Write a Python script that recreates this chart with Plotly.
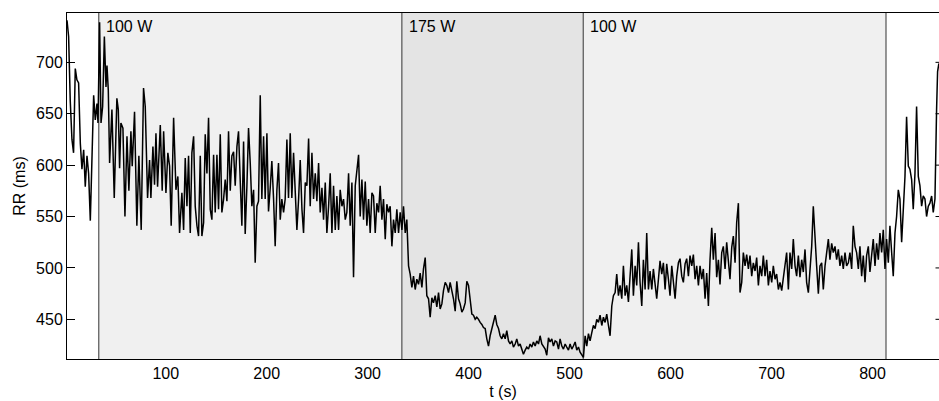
import plotly.graph_objects as go

# ---- data (time in s, RR interval in ms) ----
t_s = [
    2.2, 3.8, 5.4, 7.1, 8.7, 10.4, 12.0, 13.7, 15.4, 17.0, 18.7, 20.3, 22.0, 23.6, 25.3, 26.9,
    28.6, 30.2, 31.9, 32.9, 34.5, 35.9, 37.5, 39.2, 40.8, 41.8, 43.1, 44.4, 46.7, 49.0, 51.6,
    53.0, 54.3, 55.6, 57.6, 59.6, 61.6, 63.5, 65.5, 66.8, 68.1, 69.1, 71.4, 73.4, 75.7, 78.0,
    79.7, 82.0, 84.0, 85.3, 87.3, 88.9, 90.3, 91.9, 94.6, 96.5, 97.9, 100.2, 102.1, 103.8,
    105.4, 107.8, 110.1, 112.0, 113.7,
    116.0, 117.7, 119.3, 121.0, 122.6, 124.3, 125.9, 127.6, 129.2, 130.9, 132.5, 134.2, 135.8,
    137.5, 139.1, 140.8, 142.4, 144.1, 145.7, 147.4, 149.0, 150.7, 152.3, 154.0, 155.6, 157.3,
    158.9, 160.6, 162.2, 163.9, 165.5, 167.2, 168.8, 170.5, 172.1, 173.8, 175.4, 177.1, 178.7,
    180.4, 182.0, 183.7, 185.3, 187.0, 188.6, 190.3, 191.9, 193.6, 195.2, 196.9, 198.5, 200.2,
    201.8, 203.5, 205.1, 206.8, 208.4, 210.1, 211.7, 213.4, 215.0, 216.7, 218.3, 220.0, 221.6,
    223.3,
    224.9, 226.6, 228.3, 229.9, 231.6, 233.2, 234.9, 236.5, 238.2, 239.8, 241.5, 243.1, 244.8,
    246.4, 248.1, 249.7, 251.4, 253.0, 254.7, 256.3, 258.0, 259.6, 261.3, 262.9, 264.6, 266.2,
    267.9, 269.5, 271.2, 272.8, 274.5, 276.1, 277.8, 279.4, 281.1, 282.7, 284.4, 286.0, 287.7,
    289.3, 291.0, 292.6, 294.3, 295.9, 297.6, 299.2, 300.9, 302.5, 304.2, 305.8, 307.5, 309.1,
    310.8, 312.4, 314.1, 315.7, 317.4, 319.0, 320.7, 322.3, 324.0, 325.6, 327.3, 328.9, 330.6,
    332.2, 333.9, 335.5, 337.2, 338.8, 339.6,
    340.5, 342.1, 343.8, 345.4, 347.1, 348.7, 350.4, 352.0, 353.7, 355.3, 357.0, 358.6, 360.3,
    361.9, 363.6, 365.2, 366.9, 368.5, 370.2, 371.8, 373.5, 375.1, 376.8, 378.4, 380.1, 381.7,
    383.4, 385.0, 386.7, 388.3, 390.0, 391.6, 393.3, 394.9, 396.6, 398.2, 399.9, 401.5, 403.2,
    404.8, 406.5, 408.1, 409.8, 411.4, 413.1, 414.7, 416.4, 418.0, 419.7, 421.3, 423.0, 424.6,
    426.3, 427.9, 429.6, 431.2, 432.9, 434.5, 436.2, 437.8, 439.5, 441.1, 442.8, 444.4, 446.1,
    447.7, 449.4, 451.0, 452.7, 454.3, 456.0, 457.6, 459.3, 460.9, 462.6, 464.2, 465.9, 467.5,
    469.2, 470.8, 472.5, 474.1, 475.8, 477.4, 479.1, 480.7, 482.4, 484.0, 485.7, 487.3, 489.0,
    490.6, 492.3, 493.9, 495.6, 497.2, 498.9, 500.5, 502.2, 503.8, 505.5, 507.1, 508.8, 510.4,
    512.1, 513.7, 515.4,
    517.0, 518.7, 520.3, 522.0, 523.6, 525.3, 526.9, 528.6, 530.2, 531.9, 533.5, 535.2, 536.8,
    538.5, 540.1, 541.8, 543.4, 545.1, 546.7, 548.4, 550.0, 551.7, 553.3, 555.0, 556.6, 558.3,
    559.9, 561.6, 563.2, 564.9, 566.5, 568.2, 569.8, 571.5, 573.1, 574.8, 576.4, 578.1, 579.7,
    581.4, 583.0, 584.7, 586.3, 588.0, 589.6, 591.3, 592.9, 594.6, 596.2, 597.9, 599.5, 601.2,
    602.8, 604.5, 606.1, 607.8, 609.4, 611.1, 612.7, 614.4, 616.0, 617.7, 619.3, 621.0, 622.6,
    624.3, 625.9, 627.6, 629.2, 630.9, 632.5, 634.2, 635.8, 637.5,
    639.1, 640.8, 642.4, 644.1, 645.7, 647.4, 649.0, 650.7, 652.3, 654.0, 655.6, 657.3, 658.9,
    660.6, 662.2, 663.9, 665.5, 667.2, 668.8, 670.5, 672.1, 673.8, 675.4, 677.1, 678.7, 680.4,
    682.0, 683.7, 685.3, 687.0, 688.6, 690.3, 691.9, 693.6, 695.2, 696.9, 698.5, 700.2, 701.8,
    703.5, 705.1, 706.8, 708.4, 710.1, 711.7, 713.4, 715.0, 716.7, 718.3, 720.0, 721.6, 723.3,
    724.9, 726.6, 728.2, 729.9, 731.5, 733.2, 734.8, 736.5, 738.1, 739.8, 741.4, 743.1, 744.7,
    746.4, 748.0,
    749.7, 751.3, 753.0, 754.6, 756.3, 757.9, 759.6, 761.2, 762.9, 764.5, 766.2, 767.8, 769.5,
    771.1, 772.8, 774.4, 776.1, 777.7, 779.4, 781.0, 782.7, 784.3, 786.0, 787.6, 789.3, 790.9,
    792.6, 794.2, 795.9, 797.5, 799.2, 800.8, 802.5, 804.1, 805.8, 807.4, 809.1, 810.7, 812.4,
    814.0, 815.7, 817.3, 819.0, 820.6, 822.3, 823.9, 825.6, 827.2, 828.9, 830.5, 832.2, 833.8,
    835.5, 837.1, 838.8, 840.4, 842.1, 843.7, 845.4, 847.0, 848.7, 850.3, 852.0, 853.6, 855.3,
    856.9, 858.6, 860.2, 861.9, 863.5, 864.5, 865.8,
]

rr_ms = [
    741, 725, 663, 625, 612, 694, 683, 680, 621, 596, 615, 579, 609, 592, 546, 599,
    668, 644, 660, 641, 739, 641, 657, 725, 676, 697, 673, 602, 654, 568, 665,
    654, 597, 641, 636, 550, 628, 575, 633, 599, 638, 652, 541, 609, 537, 675,
    657, 568, 605, 568, 618, 581, 631, 579, 639, 575, 633, 573, 612, 599,
    541, 646, 576, 589, 534,
    573, 537, 607, 560, 609, 534, 612, 628, 560, 541, 531, 609, 531,
    544, 630, 592, 646, 557, 547, 610, 554, 610, 557, 630, 554, 567,
    586, 565, 633, 575, 609, 613, 580, 618, 633, 584, 541, 623, 533,
    580, 636, 602, 560, 576, 505, 560, 565, 668, 567, 628, 567, 631,
    555, 578, 604, 567, 521, 576, 602, 547, 567, 554, 567, 625, 568,
    631,
    568, 612, 567, 537, 567, 605, 557, 534, 583, 580, 626, 560, 612,
    567, 592, 565, 602, 554, 578, 547, 583, 534, 560, 592, 534, 580,
    537, 570, 537, 576, 560, 567, 547, 554, 592, 541, 583, 491, 580,
    592, 610, 550, 586, 547, 584, 541, 567, 534, 573, 570, 534, 563,
    554, 580, 547, 567, 528, 562, 554, 560, 521, 547, 534, 557, 534,
    554, 537, 560, 534, 547, 518,
    502, 494, 481, 492, 479, 489, 484, 495, 481, 499, 510, 473, 470,
    452, 471, 466, 473, 462, 476, 460, 465, 478, 486, 483, 476, 486,
    478, 470, 458, 487, 470, 465, 457, 460, 466, 487, 483, 470, 455,
    454, 450, 452, 450, 447, 445, 442, 441, 431, 424, 434, 441, 449,
    454, 445, 441, 434, 431, 436, 431, 439, 429, 426, 429, 423, 426,
    431, 424, 426, 421, 416, 420, 423, 421, 426, 423, 428, 424, 429,
    426, 434, 426, 424, 421, 415, 432, 428, 431, 424, 429, 428, 421,
    431, 424, 421, 426, 423, 420, 426, 421, 424, 428, 420, 423, 418,
    415, 413, 434,
    424, 436, 429, 437, 444, 441, 450, 447, 454, 444, 452, 447, 455,
    444, 434, 463, 473, 476, 494, 473, 483, 470, 502, 473, 483, 467,
    488, 518, 473, 502, 483, 525, 486, 463, 508, 479, 534, 479, 497,
    479, 499, 486, 470, 489, 507, 494, 505, 479, 504, 489, 473, 502,
    489, 470, 492, 505, 509, 492, 486, 504, 509, 492, 512, 502, 513,
    489, 502, 483, 502, 489, 499, 470, 495, 463,
    508, 539, 508, 534, 491, 508, 484, 515, 521, 499, 525, 502, 489,
    520, 531, 505, 544, 563, 476, 486, 515, 502, 513, 499, 512, 492,
    505, 497, 510, 483, 502, 492, 512, 492, 508, 483, 497, 486, 502,
    489, 494, 479, 486, 478, 492, 502, 515, 479, 515, 499, 528, 502,
    492, 512, 491, 508, 496, 518, 486, 476, 502, 521, 560, 525, 502,
    475, 502,
    505, 479, 502, 515, 528, 508, 524, 515, 521, 508, 518, 502, 512,
    499, 515, 502, 505, 515, 499, 541, 521, 515, 499, 521, 492, 512,
    486, 512, 521, 496, 515, 528, 502, 524, 508, 534, 515, 537, 499,
    528, 505, 541, 515, 492, 534, 550, 576, 567, 525, 560, 589, 647,
    599, 596, 586, 557, 592, 657, 589, 580, 560, 570, 567, 550, 560,
    563, 570, 554, 567, 654, 691, 699,
]

stage_start = [33.7, 333.9, 513.5]
stage_end = [333.9, 513.5, 813.4]
stage_label = ["100 W", "175 W", "100 W"]
stage_fill = ["#f0f0f0", "#e4e4e4", "#f0f0f0"]

x_ticks = [100, 200, 300, 400, 500, 600, 700, 800]
y_ticks = [450, 500, 550, 600, 650, 700]
x_range = [2.2, 865.9]
y_range = [411.4, 748.0]

FONT = "Liberation Sans, Arial, Helvetica, sans-serif"

fig = go.Figure()
fig.add_trace(go.Scatter(x=t_s, y=rr_ms, mode="lines",
                         line=dict(color="black", width=1.5),
                         showlegend=False, hoverinfo="skip"))

shapes = []
for s, e, c in zip(stage_start, stage_end, stage_fill):
    shapes.append(dict(type="rect", xref="x", yref="paper", x0=s, x1=e, y0=0, y1=1,
                       fillcolor=c, line=dict(width=0), layer="below"))
for b in sorted(set(stage_start + stage_end)):
    shapes.append(dict(type="line", xref="x", yref="paper", x0=b, x1=b, y0=0, y1=1,
                       line=dict(color="#333333", width=1), layer="below"))
for v in y_ticks:
    shapes.append(dict(type="line", xref="paper", yref="y", x0=0.996, x1=1.0, y0=v, y1=v,
                       line=dict(color="black", width=1)))

annotations = []
for s, lab in zip(stage_start, stage_label):
    annotations.append(dict(x=s, y=1, xref="x", yref="paper", text=lab, showarrow=False,
                            xanchor="left", yanchor="top", xshift=5, yshift=-3,
                            font=dict(family=FONT, size=16, color="black")))

fig.update_layout(
    width=939, height=401,
    margin=dict(l=67, r=0, t=13, b=42),
    paper_bgcolor="white", plot_bgcolor="white",
    font=dict(family=FONT, size=16, color="black"),
    shapes=shapes, annotations=annotations,
    xaxis=dict(range=x_range, tickvals=x_ticks, ticks="", showgrid=False, zeroline=False,
               showline=True, mirror=True, linecolor="black", linewidth=1,
               title=dict(text="t (s)", standoff=4, font=dict(size=16)),
               tickfont=dict(size=16)),
    yaxis=dict(range=y_range, tickvals=y_ticks, ticks="inside", ticklen=8, tickcolor="black",
               showgrid=False, zeroline=False, showline=True, linecolor="black", linewidth=1,
               title=dict(text="RR (ms)", standoff=6, font=dict(size=16)),
               tickfont=dict(size=16)),
)

fig.write_html("out.html")
